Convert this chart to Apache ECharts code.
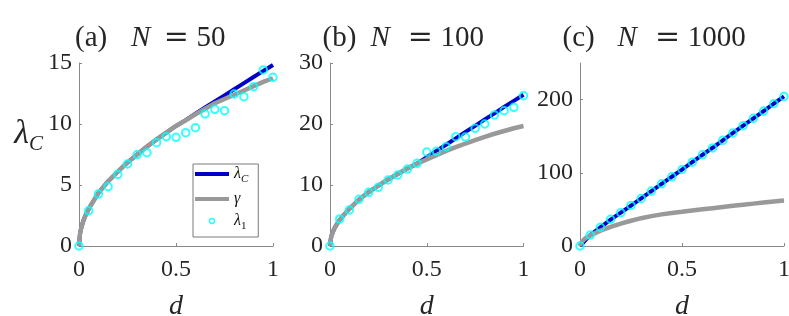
<!DOCTYPE html>
<html><head><meta charset="utf-8">
<script src="https://cdn.jsdelivr.net/npm/echarts@6/dist/echarts.min.js"></script>
<style>html,body{margin:0;padding:0;background:#fff}#c{width:789px;height:316px}</style>
</head><body><div id="c"></div>
<script>
// ---- data ----
const dPts = [0,0.05,0.1,0.15,0.2,0.25,0.3,0.35,0.4,0.45,0.5,0.55,0.6,0.65,0.7,0.75,0.8,0.85,0.9,0.95,1.0];
const dCurve = [0,0.005,0.01,0.02,0.03,0.05,0.1,0.15,0.2,0.25,0.3,0.35,0.4,0.45,0.5,0.55,0.6,0.65,0.7,0.75,0.8,0.85,0.9,0.95,1.0];

// (a) N = 50
const gammaA = [0,0.97,1.38,1.95,2.38,3.05,4.35,5.3,6.1,6.85,7.5,8.15,8.74,9.3,9.84,10.3,10.8,11.25,11.7,12.05,12.4,12.75,13.1,13.45,13.75];
const lamCA  = [0,0.97,1.38,1.95,2.38,3.05,4.35,5.3,6.1,6.85,7.5,8.15,8.74,9.3,9.84,10.32,10.85,11.35,11.85,12.35,12.85,13.35,13.85,14.35,14.84];
const lam1A  = [0,2.89,4.26,4.86,5.87,6.72,7.49,7.65,8.47,8.96,8.91,9.29,9.70,10.82,11.2,11.09,12.46,12.24,13.06,14.43,13.83];

// (b) N = 100
const gammaB = [0,1.35,1.9,2.7,3.3,4.3,6.1,7.6,8.85,9.9,10.9,11.8,12.7,13.5,14.2,14.9,15.6,16.2,16.8,17.35,17.9,18.4,18.85,19.3,19.67];
const lamCB  = [0,1.35,1.9,2.7,3.3,4.3,6.1,7.6,8.85,9.9,10.9,11.8,12.7,13.5,14.55,15.6,16.6,17.65,18.7,19.7,20.75,21.75,22.8,23.8,24.8];
const lam1B  = [0,4.43,5.9,7.65,8.8,9.62,10.82,11.64,12.62,13.55,15.4,15.52,16.28,17.92,17.85,19.29,20.0,21.48,22.19,22.73,24.64];

// (c) N = 1000
const gammaC = [0,4,6,9,11,14.5,21,26,30.5,34.5,38,40.8,43.2,45.2,46.8,48.5,50.1,51.7,53.3,54.9,56.4,57.9,59.4,60.9,62.3];
const lamCC  = [0,1.5,3,6,9,15,25.5,36,45.5,55.3,65,75,85,94.6,104.5,114.5,124.5,134.2,144.4,154.4,164.4,174.4,184.4,194.4,204.4];
const lam1C  = [0,15,25.5,36.4,45.5,55.4,65,75,85,94.5,104.5,114.5,124.5,134,144.4,154.5,164.4,174.4,184.4,194.4,204.4];

const panelLetters = ['(a)','(b)','(c)'];
const panelN = ['50','100','1000'];
const yMax = [15,30,250];
const yInterval = [5,10,100];
const yTicks = [[0,5,10,15],[0,10,20,30],[0,100,200]];
const xTicks = [0,0.5,1];

// ---- styling ----
const FONT = "'Liberation Serif', 'Times New Roman', serif";
const BLUE = '#0000c8';
const GREY = '#999999';
const CYAN = '#00ffff';
const AXIS = '#8a8a8a';
const TXT = '#262626';

const grids = [
  {left:79, top:63, width:194, height:183, outerBoundsMode:'none', containLabel:false},
  {left:330, top:63, width:193.5, height:183, outerBoundsMode:'none', containLabel:false},
  {left:580, top:63, width:204, height:183, outerBoundsMode:'none', containLabel:false}
];

const zip = (xs, ys) => xs.map((x,i)=>[x, ys[i]]);
const curvesG = [gammaA, gammaB, gammaC];
const curvesL = [lamCA, lamCB, lamCC];
const pts = [lam1A, lam1B, lam1C];

const xAxes = grids.map((g,i)=>({
  gridIndex:i, type:'value', min:0, max:1, interval:0.5,
  axisLine:{lineStyle:{color:AXIS, width:1}},
  axisTick:{inside:true, length:3, lineStyle:{color:AXIS}, customValues:xTicks},
  axisLabel:{customValues:xTicks, color:TXT, fontFamily:FONT, fontSize:24, margin:12},
  splitLine:{show:false},
  name:'d', nameLocation:'middle', nameGap:47,
  nameTextStyle:{color:TXT, fontFamily:FONT, fontStyle:'italic', fontSize:28}
}));

const yAxes = grids.map((g,i)=>{
  const ax = {
    gridIndex:i, type:'value', min:0, max:yMax[i], interval:yInterval[i],
    axisLine:{show:true, lineStyle:{color:AXIS, width:1}},
    axisTick:{show:true, inside:true, length:3, lineStyle:{color:AXIS}, customValues:yTicks[i]},
    axisLabel:{customValues:yTicks[i], color:TXT, fontFamily:FONT, fontSize:24, margin:7},
    splitLine:{show:false}
  };
  if (i===0) {
    ax.name = '{L|λ}{S|C}';
    ax.nameLocation = 'middle';
    ax.nameRotate = 0;
    ax.nameGap = 36;
    ax.nameTextStyle = {
      padding:[0,0,40,0],
      rich:{
        L:{fontFamily:FONT, fontStyle:'italic', fontSize:34, lineHeight:34, color:TXT},
        S:{fontFamily:FONT, fontStyle:'italic', fontSize:21, lineHeight:21, color:TXT, verticalAlign:'top', padding:[16,0,0,0]}
      }
    };
  }
  return ax;
});

const titleLeft = [70, 317.5, 557.5];
const wP = [56, 48, 55];
const wN = [32.7, 37.3, 37.4];
const titles = grids.map((g,i)=>({
  left:titleLeft[i], top:18,
  text:'{p|'+panelLetters[i]+'}{n|N}{e|=}{v|'+panelN[i]+'}',
  textStyle:{
    fontWeight:'normal',
    rich:{
      p:{fontFamily:FONT, fontWeight:'normal', fontSize:29, color:TXT, width:wP[i]},
      n:{fontFamily:FONT, fontWeight:'normal', fontStyle:'italic', fontSize:29, color:TXT, width:wN[i]},
      e:{fontFamily:"'DejaVu Serif', serif", fontWeight:'normal', fontSize:30, color:TXT, width:32.8},
      v:{fontFamily:FONT, fontWeight:'normal', fontSize:29, color:TXT}
    }
  }
}));

const series = [];
for (let i=0;i<3;i++){
  series.push({name:'λC', type:'line', xAxisIndex:i, yAxisIndex:i, data:zip(dCurve, curvesL[i]),
    showSymbol:false, symbol:'none', lineStyle:{color:BLUE, width:4}, itemStyle:{color:BLUE}, z:2, silent:true, animation:false});
  series.push({name:'γ', type:'line', xAxisIndex:i, yAxisIndex:i, data:zip(dCurve, curvesG[i]),
    showSymbol:false, symbol:'none', lineStyle:{color:GREY, width:4.5}, itemStyle:{color:GREY}, z:3, silent:true, animation:false});
  series.push({name:'λ1', type:'scatter', xAxisIndex:i, yAxisIndex:i, data:zip(dPts, pts[i]),
    symbol:'circle', symbolSize:7.5, itemStyle:{color:'rgba(0,0,0,0)', borderColor:CYAN, borderWidth:2}, z:4, silent:true, animation:false});
}

const legendRich = {
  l:{fontFamily:FONT, fontStyle:'italic', fontSize:16, lineHeight:16, color:'#111'},
  s:{fontFamily:FONT, fontStyle:'italic', fontSize:11, lineHeight:11, color:'#111', verticalAlign:'top', padding:[8,0,0,0]},
  o:{fontFamily:FONT, fontSize:11, lineHeight:11, color:'#111', verticalAlign:'top', padding:[8,0,0,0]}
};
const legendLabels = {'λC':'{l|λ}{s|C}', 'γ':'{l|γ}', 'λ1':'{l|λ}{o|1}'};

const option = {
  animation:false,
  backgroundColor:'#ffffff',
  title:titles,
  grid:grids,
  xAxis:xAxes,
  yAxis:yAxes,
  legend:{
    orient:'vertical', left:193, top:164,
    itemWidth:34, itemHeight:5, itemGap:6, itemTextGap:1,
    padding:[2,10,5,2],
    borderColor:'#7a7a7a', borderWidth:1, backgroundColor:'#ffffff',
    selectedMode:false,
    data:[
      {name:'λC', icon:'path://M0,0H34V4H0Z', itemStyle:{color:BLUE, borderWidth:0}},
      {name:'γ', icon:'path://M0,0H34V4H0Z', itemStyle:{color:GREY, borderWidth:0}},
      {name:'λ1', icon:'circle', itemStyle:{color:'rgba(0,0,0,0)', borderColor:CYAN, borderWidth:1.6}}
    ],
    formatter:(n)=>legendLabels[n],
    textStyle:{rich:legendRich}
  },
  series:series
};

const chart = echarts.init(document.getElementById('c'), null, {renderer:'canvas'});
chart.setOption(option);
</script></body></html>
